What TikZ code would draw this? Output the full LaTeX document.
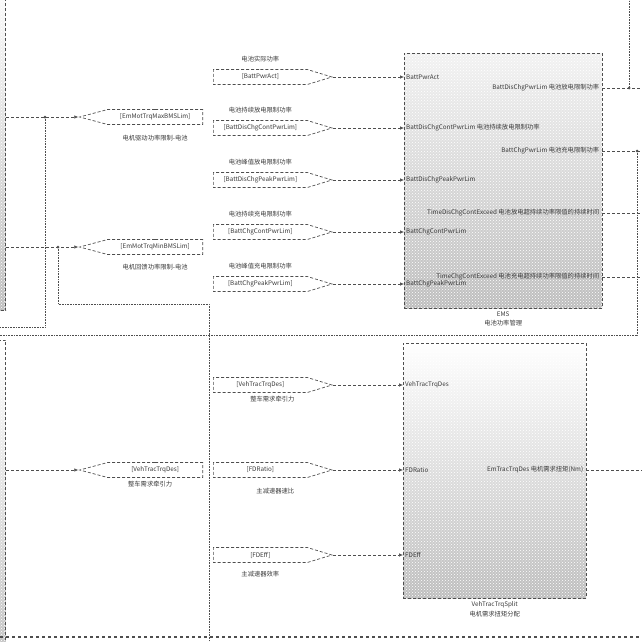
\documentclass[tikz,border=0pt]{standalone}
\usepackage{fontspec}
\setmainfont{Noto Sans CJK SC}
\usetikzlibrary{shapes.symbols, arrows.meta, positioning, calc, patterns}
\definecolor{slkline}{HTML}{4E4E4E}
\definecolor{slktext}{HTML}{3A3A3A}
\definecolor{slkshade}{HTML}{BDBDBD}

\begin{document}
\begin{tikzpicture}[x=1pt, y=-1pt,
      font=\fontsize{6.3}{7}\selectfont, text=slktext,
      blk/.style={top color=white, bottom color=slkshade,
        postaction={pattern=crosshatch dots, pattern color=white},
        postaction={draw=slkline, densely dashed, line width=1pt}},
      fromtag/.style={signal, signal to=east, signal pointer angle=34, draw=slkline, densely dashed,
        line width=0.7pt, fill=white, minimum height=15pt, text width=88pt, inner xsep=3pt,
        inner ysep=0pt, align=center, anchor=west},
      gototag/.style={signal, signal to=west, signal pointer angle=30, draw=slkline, densely dashed,
        line width=0.7pt, fill=white, minimum height=15pt, text width=89pt, inner xsep=3pt,
        inner ysep=0pt, align=center, anchor=east},
      lbl/.style={inner sep=1pt},
      portin/.style={anchor=west, inner xsep=2pt, inner ysep=0pt},
      portout/.style={anchor=east, inner xsep=3pt, inner ysep=0pt},
      sig/.style={densely dashed, slkline, line width=0.6pt},
      arr/.style={sig, -{Latex[length=4pt, width=3.5pt]}},
      br/.style={densely dotted, slkline, line width=0.6pt},
      dot/.style={circle, fill=slkline, inner sep=0pt, minimum size=3pt}
    ]
      \useasboundingbox (0,0) rectangle (642,642);
      \clip (0,0) rectangle (642,642);

      % source blocks on the left, cut by the frame
      \node[blk, minimum width=40pt, minimum height=340pt, anchor=south east] (blkTop) at (6,311) {};
      \node[blk, minimum width=40pt, minimum height=340pt, anchor=north east] (blkBot) at (6,340) {};

      % goto tags
      \node[gototag] (gMotMax) at (203,117) {[EmMotTrqMaxBMSLim]};
      \node[lbl, below=9pt of gMotMax] (lMotMax) {电机驱动功率限制-电池};
      \node[gototag] (gMotMin) at (203,247) {[EmMotTrqMinBMSLim]};
      \node[lbl, below=8pt of gMotMin] (lMotMin) {电机回馈功率限制-电池};
      \node[gototag] (gTrq) at (203,470) {[VehTracTrqDes]};
      \node[lbl, below=2pt of gTrq, xshift=-5pt] (lTrq) {整车需求牵引力};

      % from tags, battery side
      \node[fromtag] (fPwrAct) at (213,77) {[BattPwrAct]};
      \node[lbl, above=6pt of fPwrAct] (lPwrAct) {电池实际功率};
      \node[fromtag] (fDisCont) at (213,128) {[BattDisChgContPwrLim]};
      \node[lbl, above=6pt of fDisCont] (lDisCont) {电池持续放电限制功率};
      \node[fromtag] (fDisPeak) at (213,180) {[BattDisChgPeakPwrLim]};
      \node[lbl, above=6pt of fDisPeak] (lDisPeak) {电池峰值放电限制功率};
      \node[fromtag] (fChgCont) at (213,232) {[BattChgContPwrLim]};
      \node[lbl, above=6pt of fChgCont] (lChgCont) {电池持续充电限制功率};
      \node[fromtag] (fChgPeak) at (213,284) {[BattChgPeakPwrLim]};
      \node[lbl, above=6pt of fChgPeak] (lChgPeak) {电池峰值充电限制功率};

      % from tags, torque side
      \node[fromtag] (fTrq) at (213,385) {[VehTracTrqDes]};
      \node[lbl, below=2pt of fTrq, xshift=12pt] (lfTrq) {整车需求牵引力};
      \node[fromtag] (fRatio) at (213,470) {[FDRatio]};
      \node[lbl, below=9pt of fRatio, xshift=15pt] (lRatio) {主减速器速比};
      \node[fromtag] (fEff) at (213,555) {[FDEff]};
      \node[lbl, below=7pt of fEff] (lEff) {主减速器效率};

      % EMS subsystem
      \node[blk, top color=black!5, minimum width=198pt, minimum height=255pt, anchor=north west] (ems) at (404,53) {};
      \node[lbl, below=2pt of ems] (emsName) {EMS};
      \node[lbl, below=1pt of emsName] (emsDesc) {电池功率管理};
      \node[portin] (iPwrAct) at (fPwrAct.east -| ems.west) {BattPwrAct};
      \node[portin] (iDisCont) at (fDisCont.east -| ems.west) {BattDisChgContPwrLim 电池持续放电限制功率};
      \node[portin] (iDisPeak) at (fDisPeak.east -| ems.west) {BattDisChgPeakPwrLim};
      \node[portin] (iChgCont) at (fChgCont.east -| ems.west) {BattChgContPwrLim};
      \node[portin] (iChgPeak) at (fChgPeak.east -| ems.west) {BattChgPeakPwrLim};
      \node[portout] (oDisLim) at ($(ems.north east)+(0,35)$) {BattDisChgPwrLim 电池放电限制功率};
      \node[portout] (oChgLim) at ($(ems.north east)+(0,98)$) {BattChgPwrLim 电池充电限制功率};
      \node[portout] (oDisTime) at ($(ems.north east)+(0,160)$) {TimeDisChgContExceed 电池放电超持续功率限值的持续时间};
      \node[portout] (oChgTime) at ($(ems.north east)+(0,224)$) {TimeChgContExceed 电池充电超持续功率限值的持续时间};

      % VehTracTrqSplit subsystem
      \node[blk, minimum width=183pt, minimum height=255pt, anchor=north west] (vts) at (403,343) {};
      \node[lbl, below=2pt of vts] (vtsName) {VehTracTrqSplit};
      \node[lbl, below=1pt of vtsName] (vtsDesc) {电机需求扭矩分配};
      \node[portin] (iTrq) at (fTrq.east -| vts.west) {VehTracTrqDes};
      \node[portin] (iRatio) at (fRatio.east -| vts.west) {FDRatio};
      \node[portin] (iEff) at (fEff.east -| vts.west) {FDEff};
      \node[portout] (oEmTrq) at ($(vts.north east)+(0,127)$) {EmTracTrqDes 电机需求扭矩(Nm)};

      % loose ends and branch points
      \coordinate (eDisLim) at (642,88);
      \coordinate (eChgLim) at (642,151);
      \coordinate (eDisTime) at (642,213);
      \coordinate (eChgTime) at (642,277);
      \coordinate (eEmTrq) at (642,470);
      \coordinate (eUp) at (629,0);
      \coordinate (eLeftA) at (0,327);
      \coordinate (eLeftB) at (0,335);
      \coordinate (eDown) at (209,642);
      \coordinate (bMax) at (45,117);
      \coordinate (bMin) at (58,247);
      \coordinate (bDis) at (629,88);
      \coordinate (bChg) at (637,151);

      % signals
      \draw[arr] (blkTop.east |- gMotMax.west) -- (gMotMax.west);
      \draw[arr] (blkTop.east |- gMotMin.west) -- (gMotMin.west);
      \draw[arr] (blkBot.east |- gTrq.west) -- (gTrq.west);
      \draw[arr] (fPwrAct.east) -- (iPwrAct.west);
      \draw[arr] (fDisCont.east) -- (iDisCont.west);
      \draw[arr] (fDisPeak.east) -- (iDisPeak.west);
      \draw[arr] (fChgCont.east) -- (iChgCont.west);
      \draw[arr] (fChgPeak.east) -- (iChgPeak.west);
      \draw[arr] (fTrq.east) -- (iTrq.west);
      \draw[arr] (fRatio.east) -- (iRatio.west);
      \draw[arr] (fEff.east) -- (iEff.west);
      \draw[sig] (oDisLim.east) -- (eDisLim);
      \draw[sig] (oChgLim.east) -- (eChgLim);
      \draw[sig] (oDisTime.east) -- (eDisTime);
      \draw[sig] (oChgTime.east) -- (eChgTime);
      \draw[sig] (oEmTrq.east) -- (eEmTrq);

      \draw[br] (bMax) |- (eLeftA);
      \draw[br] (bMin) |- (209,304) -- (eDown);
      \draw[br] (bDis) -- (eUp);
      \draw[br] (bChg) |- (eLeftB);
      \foreach \b in {bMax, bMin, bDis, bChg}
        \node[dot] at (\b) {};

      % next block's top edge
      \draw[slkline, dashed, line width=1.8pt] (0,637) -- (642,637);
    \end{tikzpicture}
\end{document}
